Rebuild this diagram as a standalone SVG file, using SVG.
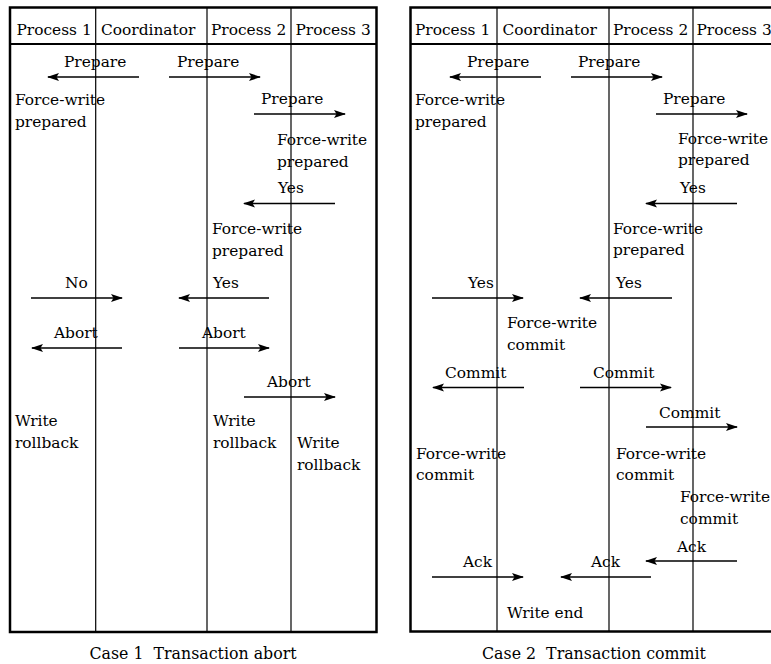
<svg xmlns="http://www.w3.org/2000/svg" width="771" height="664" viewBox="0 0 771 664">
  <style>
    .frame { fill: none; stroke: #000; stroke-width: 2.5; }
    .rule { stroke: #000; stroke-width: 2.2; }
    .life { stroke: #000; stroke-width: 1.2; }
    .msg { stroke: #000; stroke-width: 1.4; fill: none; marker-end: url(#head); }
    text { font-family: "DejaVu Serif", "Liberation Serif", serif; font-size: 15.4px; fill: #000; }
    .cap { text-anchor: middle; font-size: 15.8px; }
  </style>
  <defs>
    <marker id="head" markerUnits="userSpaceOnUse" markerWidth="13" markerHeight="10" viewBox="0 0 13 10" refX="11" refY="5" orient="auto">
      <path d="M0,1 L12,5 L0,9 L2.5,5 Z" fill="#000"/>
    </marker>
  </defs>
  <rect width="771" height="664" fill="#fff"/>

  <!-- Case 1: transaction abort -->
  <g id="case1">
    <g id="case1-frame">
      <rect class="frame" x="10" y="7.5" width="366.5" height="624.5"/>
      <line class="rule" x1="10" y1="44" x2="376.5" y2="44"/>
      <line class="life" x1="95.7" y1="7.5" x2="95.7" y2="632"/>
      <line class="life" x1="207" y1="7.5" x2="207" y2="632"/>
      <line class="life" x1="291" y1="7.5" x2="291" y2="632"/>
    </g>
    <g id="case1-headers">
      <text x="16.5" y="35">Process 1</text>
      <text x="101" y="35">Coordinator</text>
      <text x="211" y="35">Process 2</text>
      <text x="295.5" y="35">Process 3</text>
    </g>
    <g id="case1-p1-prepared"><text x="15" y="105">Force-write</text><text x="15" y="126.5">prepared</text></g>
    <g id="case1-p3-prepared"><text x="277" y="145">Force-write</text><text x="277" y="166.5">prepared</text></g>
    <g id="case1-p2-prepared"><text x="212" y="234">Force-write</text><text x="212" y="255.5">prepared</text></g>
    <g id="case1-p1-rollback"><text x="15" y="426">Write</text><text x="15" y="447.5">rollback</text></g>
    <g id="case1-p2-rollback"><text x="213" y="426">Write</text><text x="213" y="447.5">rollback</text></g>
    <g id="case1-p3-rollback"><text x="297" y="448">Write</text><text x="297" y="469.5">rollback</text></g>
    <g id="case1-caption"><text class="cap" x="193" y="659" xml:space="preserve">Case 1  Transaction abort</text></g>
  </g>

  <!-- Case 2: transaction commit -->
  <g id="case2">
    <g id="case2-frame">
      <rect class="frame" x="410.5" y="7.5" width="366.5" height="624"/>
      <line class="rule" x1="410.5" y1="44" x2="777" y2="44"/>
      <line class="life" x1="497" y1="7.5" x2="497" y2="631.5"/>
      <line class="life" x1="609" y1="7.5" x2="609" y2="631.5"/>
      <line class="life" x1="693" y1="7.5" x2="693" y2="631.5"/>
    </g>
    <g id="case2-headers">
      <text x="415" y="35">Process 1</text>
      <text x="502.5" y="35">Coordinator</text>
      <text x="613" y="35">Process 2</text>
      <text x="696.5" y="35">Process 3</text>
    </g>
    <g id="case2-p1-prepared"><text x="415" y="105">Force-write</text><text x="415" y="126.5">prepared</text></g>
    <g id="case2-p3-prepared"><text x="678" y="143.5">Force-write</text><text x="678" y="165">prepared</text></g>
    <g id="case2-p2-prepared"><text x="613" y="233.5">Force-write</text><text x="613" y="255">prepared</text></g>
    <g id="case2-coord-commit"><text x="507" y="328">Force-write</text><text x="507" y="349.5">commit</text></g>
    <g id="case2-p1-commit"><text x="416" y="458.5">Force-write</text><text x="416" y="480">commit</text></g>
    <g id="case2-p2-commit"><text x="616" y="458.5">Force-write</text><text x="616" y="480">commit</text></g>
    <g id="case2-p3-commit"><text x="680" y="502">Force-write</text><text x="680" y="523.5">commit</text></g>
    <g id="case2-coord-end"><text x="507" y="618">Write end</text></g>
    <g id="case2-caption"><text class="cap" x="594" y="659" xml:space="preserve">Case 2  Transaction commit</text></g>
  </g>

  <!-- Messages between lifelines -->
  <g id="connectors">
    <!-- case 1 -->
    <line class="msg" x1="139" y1="77" x2="48" y2="77"/>
    <line class="msg" x1="169" y1="77" x2="260" y2="77"/>
    <line class="msg" x1="254" y1="114" x2="345" y2="114"/>
    <line class="msg" x1="335" y1="203.5" x2="244" y2="203.5"/>
    <line class="msg" x1="31" y1="298" x2="122" y2="298"/>
    <line class="msg" x1="269" y1="298" x2="179" y2="298"/>
    <line class="msg" x1="122" y1="348" x2="32" y2="348"/>
    <line class="msg" x1="179" y1="348" x2="269" y2="348"/>
    <line class="msg" x1="244" y1="397" x2="335" y2="397"/>
    <!-- case 2 -->
    <line class="msg" x1="541" y1="77" x2="450" y2="77"/>
    <line class="msg" x1="571" y1="77" x2="662" y2="77"/>
    <line class="msg" x1="656" y1="114" x2="747" y2="114"/>
    <line class="msg" x1="737" y1="203.5" x2="646" y2="203.5"/>
    <line class="msg" x1="432" y1="298" x2="523" y2="298"/>
    <line class="msg" x1="672" y1="298" x2="580" y2="298"/>
    <line class="msg" x1="524" y1="387.5" x2="433" y2="387.5"/>
    <line class="msg" x1="580" y1="387.5" x2="671" y2="387.5"/>
    <line class="msg" x1="646" y1="427" x2="737" y2="427"/>
    <line class="msg" x1="737" y1="561" x2="646" y2="561"/>
    <line class="msg" x1="432" y1="577" x2="523" y2="577"/>
    <line class="msg" x1="651" y1="577" x2="561" y2="577"/>
  </g>

  <!-- Message labels -->
  <g id="labels">
    <text x="64" y="67">Prepare</text>
    <text x="177" y="67">Prepare</text>
    <text x="261" y="104">Prepare</text>
    <text x="278" y="193">Yes</text>
    <text x="65" y="288">No</text>
    <text x="213" y="288">Yes</text>
    <text x="54" y="338">Abort</text>
    <text x="202" y="338">Abort</text>
    <text x="267" y="387">Abort</text>

    <text x="467" y="67">Prepare</text>
    <text x="578" y="67">Prepare</text>
    <text x="663" y="104">Prepare</text>
    <text x="680" y="193">Yes</text>
    <text x="468" y="288">Yes</text>
    <text x="616" y="288">Yes</text>
    <text x="445" y="378">Commit</text>
    <text x="593" y="378">Commit</text>
    <text x="659" y="418">Commit</text>
    <text x="677" y="552">Ack</text>
    <text x="463" y="567">Ack</text>
    <text x="591" y="567">Ack</text>
  </g>
</svg>
